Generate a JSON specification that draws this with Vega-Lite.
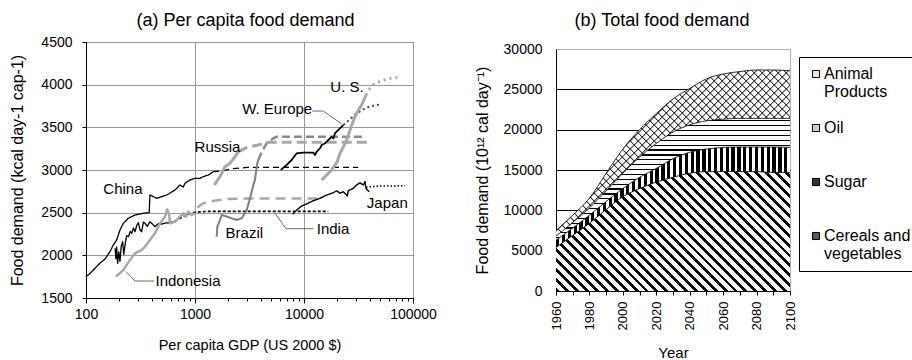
{
"$schema":"https://vega.github.io/schema/vega-lite/v6.json",
"padding":{"left":9,"top":11,"right":2,"bottom":2},
"background":"white",
"config":{"font":"Liberation Sans","axis":{"labelColor":"black","titleColor":"black","domainColor":"black","tickColor":"black","titleFontWeight":"normal","labelFont":"Liberation Sans","titleFont":"Liberation Sans"},"title":{"color":"black","fontWeight":"normal","font":"Liberation Sans"},"legend":{"labelColor":"black","labelFont":"Liberation Sans"}},
"resolve":{"scale":{"color":"independent","strokeDash":"independent","strokeWidth":"independent"},"legend":{"color":"independent"}},
"datasets":{
"lines":[
{"s":"China","x":100,"y":1750},{"s":"China","x":109,"y":1789},{"s":"China","x":121,"y":1848},{"s":"China","x":134,"y":1907},{"s":"China","x":149,"y":1954},{"s":"China","x":166,"y":2043},{"s":"China","x":178,"y":2121},{"s":"China","x":191,"y":2180},{"s":"China","x":205,"y":2297},{"s":"China","x":220,"y":2375},{"s":"China","x":244,"y":2434},{"s":"China","x":282,"y":2473},{"s":"China","x":336,"y":2493},{"s":"China","x":380,"y":2500},{"s":"China","x":386,"y":2707},{"s":"China","x":445,"y":2668},{"s":"China","x":550,"y":2707},{"s":"China","x":656,"y":2766},{"s":"China","x":728,"y":2824},{"s":"China","x":780,"y":2800},{"s":"China","x":809,"y":2844},{"s":"China","x":899,"y":2883},{"s":"China","x":1000,"y":2903},{"s":"China","x":1100,"y":2900},{"s":"China","x":1192,"y":2922},{"s":"China","x":1324,"y":2941},{"s":"China","x":1472,"y":2980},
{"s":"China proj","x":1472,"y":2980},{"s":"China proj","x":1800,"y":2990},{"s":"China proj","x":2200,"y":3015},{"s":"China proj","x":3000,"y":3030},{"s":"China proj","x":31500,"y":3030},
{"s":"India","x":185,"y":2082},{"s":"India","x":188,"y":1960},{"s":"India","x":191,"y":2100},{"s":"India","x":195,"y":1907},{"s":"India","x":200,"y":2040},{"s":"India","x":205,"y":1930},{"s":"India","x":210,"y":2100},{"s":"India","x":217,"y":2160},{"s":"India","x":222,"y":2010},{"s":"India","x":228,"y":2120},{"s":"India","x":236,"y":2230},{"s":"India","x":245,"y":2218},{"s":"India","x":255,"y":2280},{"s":"India","x":263,"y":2258},{"s":"India","x":272,"y":2320},{"s":"India","x":282,"y":2277},{"s":"India","x":292,"y":2350},{"s":"India","x":302,"y":2382},{"s":"India","x":313,"y":2300},{"s":"India","x":324,"y":2277},{"s":"India","x":336,"y":2390},{"s":"India","x":348,"y":2375},{"s":"India","x":365,"y":2340},{"s":"India","x":386,"y":2394},{"s":"India","x":405,"y":2370},{"s":"India","x":429,"y":2336},{"s":"India","x":460,"y":2370},{"s":"India","x":495,"y":2367},{"s":"India","x":540,"y":2380},{"s":"India","x":590,"y":2382},
{"s":"India proj","x":590,"y":2382},{"s":"India proj","x":700,"y":2420},{"s":"India proj","x":850,"y":2480},{"s":"India proj","x":1000,"y":2505},{"s":"India proj","x":1300,"y":2515},{"s":"India proj","x":16700,"y":2515},
{"s":"Indonesia","x":188,"y":1750},{"s":"Indonesia","x":220,"y":1828},{"s":"Indonesia","x":253,"y":1945},{"s":"Indonesia","x":282,"y":2024},{"s":"Indonesia","x":302,"y":2043},{"s":"Indonesia","x":324,"y":2063},{"s":"Indonesia","x":348,"y":2101},{"s":"Indonesia","x":386,"y":2180},{"s":"Indonesia","x":429,"y":2258},{"s":"Indonesia","x":477,"y":2375},{"s":"Indonesia","x":531,"y":2453},{"s":"Indonesia","x":557,"y":2539},{"s":"Indonesia","x":581,"y":2473},{"s":"Indonesia","x":590,"y":2375},{"s":"Indonesia","x":656,"y":2394},{"s":"Indonesia","x":728,"y":2453},{"s":"Indonesia","x":781,"y":2493},{"s":"Indonesia","x":826,"y":2453},{"s":"Indonesia","x":868,"y":2511},{"s":"Indonesia","x":933,"y":2473},{"s":"Indonesia","x":1000,"y":2493},
{"s":"Indonesia proj","x":1050,"y":2560},{"s":"Indonesia proj","x":1190,"y":2610},{"s":"Indonesia proj","x":1500,"y":2640},{"s":"Indonesia proj","x":2000,"y":2660},{"s":"Indonesia proj","x":3000,"y":2665},{"s":"Indonesia proj","x":13500,"y":2665},
{"s":"Brazil","x":1581,"y":2218},{"s":"Brazil","x":1603,"y":2336},{"s":"Brazil","x":1695,"y":2414},{"s":"Brazil","x":1757,"y":2473},{"s":"Brazil","x":1953,"y":2455},{"s":"Brazil","x":2170,"y":2434},{"s":"Brazil","x":2414,"y":2414},{"s":"Brazil","x":2681,"y":2434},{"s":"Brazil","x":2979,"y":2531},{"s":"Brazil","x":3197,"y":2668},{"s":"Brazil","x":3311,"y":2746},{"s":"Brazil","x":3428,"y":2824},{"s":"Brazil","x":3550,"y":2883},{"s":"Brazil","x":3630,"y":2980},{"s":"Brazil","x":3731,"y":3079},{"s":"Brazil","x":3813,"y":3117},
{"s":"Brazil proj","x":3813,"y":3117},{"s":"Brazil proj","x":4093,"y":3215},{"s":"Brazil proj","x":4548,"y":3313},{"s":"Brazil proj","x":5230,"y":3371},{"s":"Brazil proj","x":5620,"y":3391},{"s":"Brazil proj","x":36270,"y":3391},
{"s":"Russia","x":1503,"y":2824},{"s":"Russia","x":1695,"y":2922},{"s":"Russia","x":1884,"y":3039},{"s":"Russia","x":2094,"y":3079},{"s":"Russia","x":2328,"y":3156},{"s":"Russia","x":2496,"y":3215},
{"s":"Russia proj","x":2496,"y":3215},{"s":"Russia proj","x":3000,"y":3265},{"s":"Russia proj","x":3700,"y":3290},{"s":"Russia proj","x":4700,"y":3325},{"s":"Russia proj","x":40350,"y":3325},
{"s":"W. Europe","x":6110,"y":3000},{"s":"W. Europe","x":6930,"y":3059},{"s":"W. Europe","x":7700,"y":3117},{"s":"W. Europe","x":8570,"y":3196},{"s":"W. Europe","x":9860,"y":3203},{"s":"W. Europe","x":12170,"y":3203},{"s":"W. Europe","x":12610,"y":3176},{"s":"W. Europe","x":13080,"y":3215},{"s":"W. Europe","x":14020,"y":3254},{"s":"W. Europe","x":14530,"y":3293},{"s":"W. Europe","x":15590,"y":3313},{"s":"W. Europe","x":16720,"y":3352},{"s":"W. Europe","x":17940,"y":3391},{"s":"W. Europe","x":18570,"y":3371},{"s":"W. Europe","x":19250,"y":3430},{"s":"W. Europe","x":20640,"y":3469},{"s":"W. Europe","x":22160,"y":3508},{"s":"W. Europe","x":22970,"y":3527},
{"s":"W. Europe proj","x":22970,"y":3527},{"s":"W. Europe proj","x":30400,"y":3664},{"s":"W. Europe proj","x":37600,"y":3735},{"s":"W. Europe proj","x":51600,"y":3773},
{"s":"U.S.","x":14530,"y":2883},{"s":"U.S.","x":16150,"y":2941},{"s":"U.S.","x":17940,"y":3000},{"s":"U.S.","x":19250,"y":3059},{"s":"U.S.","x":20190,"y":3097},{"s":"U.S.","x":21400,"y":3196},{"s":"U.S.","x":22970,"y":3273},{"s":"U.S.","x":24640,"y":3352},{"s":"U.S.","x":26440,"y":3469},{"s":"U.S.","x":27390,"y":3527},{"s":"U.S.","x":29400,"y":3625},{"s":"U.S.","x":31500,"y":3703},{"s":"U.S.","x":33800,"y":3762},{"s":"U.S.","x":37060,"y":3879},
{"s":"U.S. proj","x":37060,"y":3879},{"s":"U.S. proj","x":40350,"y":3960},{"s":"U.S. proj","x":43250,"y":3996},{"s":"U.S. proj","x":50000,"y":4040},{"s":"U.S. proj","x":57400,"y":4067},{"s":"U.S. proj","x":73300,"y":4087},
{"s":"Japan","x":7875,"y":2481},{"s":"Japan","x":8570,"y":2531},{"s":"Japan","x":9520,"y":2578},{"s":"Japan","x":10580,"y":2602},{"s":"Japan","x":12170,"y":2640},{"s":"Japan","x":14020,"y":2668},{"s":"Japan","x":16150,"y":2707},{"s":"Japan","x":18580,"y":2734},{"s":"Japan","x":19950,"y":2757},{"s":"Japan","x":21400,"y":2727},{"s":"Japan","x":22950,"y":2746},{"s":"Japan","x":24960,"y":2695},{"s":"Japan","x":25490,"y":2757},{"s":"Japan","x":28320,"y":2786},{"s":"Japan","x":30410,"y":2824},{"s":"Japan","x":32620,"y":2851},{"s":"Japan","x":34990,"y":2824},{"s":"Japan","x":36270,"y":2863},{"s":"Japan","x":37060,"y":2786},{"s":"Japan","x":38090,"y":2766},{"s":"Japan","x":39740,"y":2746},
{"s":"Japan proj","x":37060,"y":2800},{"s":"Japan proj","x":50000,"y":2812},{"s":"Japan proj","x":84500,"y":2815}
],
"labels":[
{"t":"China","x":218,"y":2774},{"t":"Russia","x":1608,"y":3273},{"t":"W. Europe","x":5675,"y":3715},{"t":"U. S.","x":24800,"y":3976},{"t":"Japan","x":58100,"y":2617},{"t":"India","x":18450,"y":2312},{"t":"Brazil","x":2833,"y":2258},{"t":"Indonesia","x":863,"y":1699}
],
"pointers":[
{"p":"we","o":1,"x":11910,"y":3691},{"p":"we","o":2,"x":15030,"y":3691},{"p":"we","o":3,"x":22170,"y":3539},
{"p":"in","o":1,"x":12170,"y":2312},{"p":"in","o":2,"x":6840,"y":2312},{"p":"in","o":3,"x":5420,"y":2493},
{"p":"id","o":1,"x":420,"y":1699},{"p":"id","o":2,"x":282,"y":1699},{"p":"id","o":3,"x":233,"y":1808}
],
"food":[
{"year":1960,"cat":"Cereals and vegetables","k":1,"v":5400},{"year":1960,"cat":"Sugar","k":2,"v":900},{"year":1960,"cat":"Oil","k":3,"v":500},{"year":1960,"cat":"Animal Products","k":4,"v":700},
{"year":1970,"cat":"Cereals and vegetables","k":1,"v":6900},{"year":1970,"cat":"Sugar","k":2,"v":900},{"year":1970,"cat":"Oil","k":3,"v":700},{"year":1970,"cat":"Animal Products","k":4,"v":900},
{"year":1980,"cat":"Cereals and vegetables","k":1,"v":8400},{"year":1980,"cat":"Sugar","k":2,"v":1000},{"year":1980,"cat":"Oil","k":3,"v":900},{"year":1980,"cat":"Animal Products","k":4,"v":1200},
{"year":1990,"cat":"Cereals and vegetables","k":1,"v":10100},{"year":1990,"cat":"Sugar","k":2,"v":1000},{"year":1990,"cat":"Oil","k":3,"v":1300},{"year":1990,"cat":"Animal Products","k":4,"v":2200},
{"year":2000,"cat":"Cereals and vegetables","k":1,"v":11700},{"year":2000,"cat":"Sugar","k":2,"v":1000},{"year":2000,"cat":"Oil","k":3,"v":1900},{"year":2000,"cat":"Animal Products","k":4,"v":3000},
{"year":2010,"cat":"Cereals and vegetables","k":1,"v":12700},{"year":2010,"cat":"Sugar","k":2,"v":1400},{"year":2010,"cat":"Oil","k":3,"v":2500},{"year":2010,"cat":"Animal Products","k":4,"v":3400},
{"year":2020,"cat":"Cereals and vegetables","k":1,"v":13500},{"year":2020,"cat":"Sugar","k":2,"v":1700},{"year":2020,"cat":"Oil","k":3,"v":3100},{"year":2020,"cat":"Animal Products","k":4,"v":3700},
{"year":2030,"cat":"Cereals and vegetables","k":1,"v":14100},{"year":2030,"cat":"Sugar","k":2,"v":2300},{"year":2030,"cat":"Oil","k":3,"v":3300},{"year":2030,"cat":"Animal Products","k":4,"v":4100},
{"year":2040,"cat":"Cereals and vegetables","k":1,"v":14600},{"year":2040,"cat":"Sugar","k":2,"v":2600},{"year":2040,"cat":"Oil","k":3,"v":3400},{"year":2040,"cat":"Animal Products","k":4,"v":4500},
{"year":2050,"cat":"Cereals and vegetables","k":1,"v":14800},{"year":2050,"cat":"Sugar","k":2,"v":2800},{"year":2050,"cat":"Oil","k":3,"v":3500},{"year":2050,"cat":"Animal Products","k":4,"v":5200},
{"year":2060,"cat":"Cereals and vegetables","k":1,"v":14800},{"year":2060,"cat":"Sugar","k":2,"v":3000},{"year":2060,"cat":"Oil","k":3,"v":3500},{"year":2060,"cat":"Animal Products","k":4,"v":5600},
{"year":2070,"cat":"Cereals and vegetables","k":1,"v":14800},{"year":2070,"cat":"Sugar","k":2,"v":3050},{"year":2070,"cat":"Oil","k":3,"v":3550},{"year":2070,"cat":"Animal Products","k":4,"v":5800},
{"year":2080,"cat":"Cereals and vegetables","k":1,"v":14800},{"year":2080,"cat":"Sugar","k":2,"v":3050},{"year":2080,"cat":"Oil","k":3,"v":3550},{"year":2080,"cat":"Animal Products","k":4,"v":6000},
{"year":2090,"cat":"Cereals and vegetables","k":1,"v":14700},{"year":2090,"cat":"Sugar","k":2,"v":3150},{"year":2090,"cat":"Oil","k":3,"v":3550},{"year":2090,"cat":"Animal Products","k":4,"v":6000},
{"year":2100,"cat":"Cereals and vegetables","k":1,"v":14700},{"year":2100,"cat":"Sugar","k":2,"v":3100},{"year":2100,"cat":"Oil","k":3,"v":3600},{"year":2100,"cat":"Animal Products","k":4,"v":5900}
]
},
"hconcat":[
{
"width":327,"height":256,
"title":{"text":"(a) Per capita food demand","fontSize":18,"offset":5,"dx":-4},
"view":{"stroke":"black","strokeWidth":1},
"encoding":{
"x":{"field":"x","type":"quantitative","scale":{"type":"log","domain":[100,100000],"nice":false},
"axis":{"title":"Per capita GDP (US 2000 $)","values":[100,200,300,400,500,600,700,800,900,1000,2000,3000,4000,5000,6000,7000,8000,9000,10000,20000,30000,40000,50000,60000,70000,80000,90000,100000],
"labelExpr":"indexof([100,1000,10000,100000], datum.value) >= 0 ? format(datum.value, 'd') : ''",
"gridOpacity":{"condition":{"test":"indexof([100,1000,10000,100000], datum.value) >= 0","value":1},"value":0},
"tickSize":{"condition":{"test":"indexof([100,1000,10000,100000], datum.value) >= 0","value":5},"value":3},
"gridColor":"#999","labelFontSize":14,"labelPadding":4,"labelFlush":false,"labelOverlap":false,"titleFontSize":14.5,"titlePadding":17}},
"y":{"field":"y","type":"quantitative","scale":{"domain":[1500,4500],"nice":false,"zero":false},
"axis":{"title":"Food demand (kcal day-1 cap-1)","values":[1500,2000,2500,3000,3500,4000,4500],"format":"d","gridColor":"#999","tickSize":4,"labelPadding":10,"labelFontSize":14,"titleFontSize":16,"titlePadding":15}}
},
"layer":[
{"data":{"name":"lines"},"mark":{"type":"line","strokeJoin":"round"},
"encoding":{
"color":{"field":"s","type":"nominal","legend":null,"scale":{"domain":["China","China proj","India","India proj","Indonesia","Indonesia proj","Brazil","Brazil proj","Russia","Russia proj","W. Europe","W. Europe proj","U.S.","U.S. proj","Japan","Japan proj"],"range":["#000000","#000000","#000000","#000000","#a8a8a8","#a8a8a8","#7f7f7f","#8a8a8a","#a8a8a8","#a8a8a8","#000000","#444444","#a8a8a8","#a8a8a8","#000000","#000000"]}},
"strokeDash":{"field":"s","type":"nominal","legend":null,"scale":{"domain":["China","China proj","India","India proj","Indonesia","Indonesia proj","Brazil","Brazil proj","Russia","Russia proj","W. Europe","W. Europe proj","U.S.","U.S. proj","Japan","Japan proj"],"range":[[1,0],[6,4],[1,0],[3,2],[1,0],[10,6],[1,0],[8,4],[1,0],[10,5],[1,0],[2,3],[1,0],[2,4],[1,0],[1.5,2]]}},
"strokeWidth":{"field":"s","type":"nominal","legend":null,"scale":{"type":"ordinal","domain":["China","China proj","India","India proj","Indonesia","Indonesia proj","Brazil","Brazil proj","Russia","Russia proj","W. Europe","W. Europe proj","U.S.","U.S. proj","Japan","Japan proj"],"range":[1.3,1.3,1.3,1.6,2.5,2.5,2,2.5,3,3.2,1.8,2,3,3,1.4,1.5]}}
}},
{"data":{"name":"pointers"},"mark":{"type":"line","color":"#444","strokeWidth":0.8},"encoding":{"detail":{"field":"p"},"order":{"field":"o"}}},
{"data":{"name":"labels"},"mark":{"type":"text","fontSize":15,"align":"center","baseline":"middle","color":"black"},"encoding":{"text":{"field":"t"}}}
]
},
{
"width":234,"height":242,
"title":{"text":"(b) Total food demand","fontSize":18,"offset":12,"dx":-11},
"view":{"stroke":"#b0b0b0"},
"data":{"name":"food"},
"transform":[{"stack":"v","groupby":["year"],"sort":[{"field":"k","order":"ascending"}],"as":["v0","v1"]}],
"encoding":{
"x":{"field":"year","type":"quantitative","scale":{"domain":[1960,2100],"nice":false,"zero":false},
"axis":{"title":"Year","values":[1960,1970,1980,1990,2000,2010,2020,2030,2040,2050,2060,2070,2080,2090,2100],"labelExpr":"datum.value % 20 == 0 ? format(datum.value, 'd') : ''","labelAngle":270,"labelFontSize":13,"tickSize":4,"labelPadding":6,"grid":false,"titleFontSize":15,"titlePadding":16,"labelOverlap":false,"labelFlush":false}},
"y":{"field":"v1","type":"quantitative","scale":{"domain":[0,30000],"nice":false},
"axis":{"title":"Food demand (10¹² cal day⁻¹)","values":[0,5000,10000,15000,20000,25000,30000],"format":"d","gridColor":"black","gridOpacity":{"condition":{"test":"datum.value == 30000","value":0},"value":1},"ticks":false,"labelPadding":14,"labelFontSize":14,"titleFontSize":16,"titlePadding":13}}
},
"layer":[
{"mark":{"type":"area","interpolate":"monotone","opacity":1},
"encoding":{"y2":{"field":"v0"},
"color":{"field":"cat","type":"nominal","scale":{"domain":["Animal Products","Oil","Sugar","Cereals and vegetables"],"range":["#e6e6e6","#cccccc","#333333","#5a5a5a"]},
"legend":{"orient":"none","legendX":243,"legendY":8,"title":null,"labelExpr":"datum.label == 'Animal Products' ? ['Animal', 'Products'] : datum.label == 'Cereals and vegetables' ? ['Cereals and', 'vegetables'] : [datum.label, ' ']","labelFontSize":16,"symbolType":"square","symbolSize":50,"symbolStrokeColor":"black","symbolStrokeWidth":1,"strokeColor":"black","fillColor":"white","padding":9,"rowPadding":20,"labelLimit":200,"labelOffset":0}}}},
{"transform":[{"filter":"datum.cat == 'Cereals and vegetables'"}],
"mark":{"type":"area","interpolate":"monotone","opacity":1,"fill":{"gradient":"linear","x1":0,"y1":1,"x2":1.198,"y2":0.389,"stops":[
{"offset":0,"color":"#000"},{"offset":0.011,"color":"#000"},{"offset":0.011,"color":"#fff"},{"offset":0.028,"color":"#fff"},
{"offset":0.028,"color":"#000"},{"offset":0.039,"color":"#000"},{"offset":0.039,"color":"#fff"},{"offset":0.056,"color":"#fff"},
{"offset":0.056,"color":"#000"},{"offset":0.067,"color":"#000"},{"offset":0.067,"color":"#fff"},{"offset":0.084,"color":"#fff"},
{"offset":0.084,"color":"#000"},{"offset":0.095,"color":"#000"},{"offset":0.095,"color":"#fff"},{"offset":0.112,"color":"#fff"},
{"offset":0.112,"color":"#000"},{"offset":0.123,"color":"#000"},{"offset":0.123,"color":"#fff"},{"offset":0.14,"color":"#fff"},
{"offset":0.14,"color":"#000"},{"offset":0.151,"color":"#000"},{"offset":0.151,"color":"#fff"},{"offset":0.168,"color":"#fff"},
{"offset":0.168,"color":"#000"},{"offset":0.179,"color":"#000"},{"offset":0.179,"color":"#fff"},{"offset":0.196,"color":"#fff"},
{"offset":0.196,"color":"#000"},{"offset":0.207,"color":"#000"},{"offset":0.207,"color":"#fff"},{"offset":0.224,"color":"#fff"},
{"offset":0.224,"color":"#000"},{"offset":0.235,"color":"#000"},{"offset":0.235,"color":"#fff"},{"offset":0.252,"color":"#fff"},
{"offset":0.252,"color":"#000"},{"offset":0.263,"color":"#000"},{"offset":0.263,"color":"#fff"},{"offset":0.28,"color":"#fff"},
{"offset":0.28,"color":"#000"},{"offset":0.291,"color":"#000"},{"offset":0.291,"color":"#fff"},{"offset":0.308,"color":"#fff"},
{"offset":0.308,"color":"#000"},{"offset":0.319,"color":"#000"},{"offset":0.319,"color":"#fff"},{"offset":0.336,"color":"#fff"},
{"offset":0.336,"color":"#000"},{"offset":0.347,"color":"#000"},{"offset":0.347,"color":"#fff"},{"offset":0.364,"color":"#fff"},
{"offset":0.364,"color":"#000"},{"offset":0.375,"color":"#000"},{"offset":0.375,"color":"#fff"},{"offset":0.392,"color":"#fff"},
{"offset":0.392,"color":"#000"},{"offset":0.403,"color":"#000"},{"offset":0.403,"color":"#fff"},{"offset":0.42,"color":"#fff"},
{"offset":0.42,"color":"#000"},{"offset":0.431,"color":"#000"},{"offset":0.431,"color":"#fff"},{"offset":0.448,"color":"#fff"},
{"offset":0.448,"color":"#000"},{"offset":0.459,"color":"#000"},{"offset":0.459,"color":"#fff"},{"offset":0.476,"color":"#fff"},
{"offset":0.476,"color":"#000"},{"offset":0.487,"color":"#000"},{"offset":0.487,"color":"#fff"},{"offset":0.504,"color":"#fff"},
{"offset":0.504,"color":"#000"},{"offset":0.515,"color":"#000"},{"offset":0.515,"color":"#fff"},{"offset":0.532,"color":"#fff"},
{"offset":0.532,"color":"#000"},{"offset":0.543,"color":"#000"},{"offset":0.543,"color":"#fff"},{"offset":0.56,"color":"#fff"},
{"offset":0.56,"color":"#000"},{"offset":0.571,"color":"#000"},{"offset":0.571,"color":"#fff"},{"offset":0.588,"color":"#fff"},
{"offset":0.588,"color":"#000"},{"offset":0.599,"color":"#000"},{"offset":0.599,"color":"#fff"},{"offset":0.616,"color":"#fff"},
{"offset":0.616,"color":"#000"},{"offset":0.627,"color":"#000"},{"offset":0.627,"color":"#fff"},{"offset":0.644,"color":"#fff"},
{"offset":0.644,"color":"#000"},{"offset":0.655,"color":"#000"},{"offset":0.655,"color":"#fff"},{"offset":0.672,"color":"#fff"},
{"offset":0.672,"color":"#000"},{"offset":0.683,"color":"#000"},{"offset":0.683,"color":"#fff"},{"offset":0.7,"color":"#fff"},
{"offset":0.7,"color":"#000"},{"offset":0.711,"color":"#000"},{"offset":0.711,"color":"#fff"},{"offset":0.728,"color":"#fff"},
{"offset":0.728,"color":"#000"},{"offset":0.739,"color":"#000"},{"offset":0.739,"color":"#fff"},{"offset":0.756,"color":"#fff"},
{"offset":0.756,"color":"#000"},{"offset":0.767,"color":"#000"},{"offset":0.767,"color":"#fff"},{"offset":0.784,"color":"#fff"},
{"offset":0.784,"color":"#000"},{"offset":0.795,"color":"#000"},{"offset":0.795,"color":"#fff"},{"offset":0.812,"color":"#fff"},
{"offset":0.812,"color":"#000"},{"offset":0.823,"color":"#000"},{"offset":0.823,"color":"#fff"},{"offset":0.84,"color":"#fff"},
{"offset":0.84,"color":"#000"},{"offset":0.851,"color":"#000"},{"offset":0.851,"color":"#fff"},{"offset":0.868,"color":"#fff"},
{"offset":0.868,"color":"#000"},{"offset":0.879,"color":"#000"},{"offset":0.879,"color":"#fff"},{"offset":0.896,"color":"#fff"},
{"offset":0.896,"color":"#000"},{"offset":0.907,"color":"#000"},{"offset":0.907,"color":"#fff"},{"offset":0.924,"color":"#fff"},
{"offset":0.924,"color":"#000"},{"offset":0.935,"color":"#000"},{"offset":0.935,"color":"#fff"},{"offset":0.952,"color":"#fff"},
{"offset":0.952,"color":"#000"},{"offset":0.963,"color":"#000"},{"offset":0.963,"color":"#fff"},{"offset":0.98,"color":"#fff"},
{"offset":0.98,"color":"#000"},{"offset":0.991,"color":"#000"},{"offset":0.991,"color":"#fff"},{"offset":1,"color":"#fff"}
]}},
"encoding":{"y2":{"field":"v0"}}},
{"transform":[{"filter":"datum.cat == 'Sugar'"}],
"mark":{"type":"area","interpolate":"monotone","opacity":1,"fill":{"gradient":"linear","x1":0,"y1":0,"x2":1,"y2":0,"stops":[
{"offset":0,"color":"#000"},{"offset":0.014,"color":"#000"},{"offset":0.014,"color":"#fff"},{"offset":0.025,"color":"#fff"},
{"offset":0.025,"color":"#000"},{"offset":0.039,"color":"#000"},{"offset":0.039,"color":"#fff"},{"offset":0.05,"color":"#fff"},
{"offset":0.05,"color":"#000"},{"offset":0.064,"color":"#000"},{"offset":0.064,"color":"#fff"},{"offset":0.075,"color":"#fff"},
{"offset":0.075,"color":"#000"},{"offset":0.089,"color":"#000"},{"offset":0.089,"color":"#fff"},{"offset":0.1,"color":"#fff"},
{"offset":0.1,"color":"#000"},{"offset":0.114,"color":"#000"},{"offset":0.114,"color":"#fff"},{"offset":0.125,"color":"#fff"},
{"offset":0.125,"color":"#000"},{"offset":0.139,"color":"#000"},{"offset":0.139,"color":"#fff"},{"offset":0.15,"color":"#fff"},
{"offset":0.15,"color":"#000"},{"offset":0.164,"color":"#000"},{"offset":0.164,"color":"#fff"},{"offset":0.175,"color":"#fff"},
{"offset":0.175,"color":"#000"},{"offset":0.189,"color":"#000"},{"offset":0.189,"color":"#fff"},{"offset":0.2,"color":"#fff"},
{"offset":0.2,"color":"#000"},{"offset":0.214,"color":"#000"},{"offset":0.214,"color":"#fff"},{"offset":0.225,"color":"#fff"},
{"offset":0.225,"color":"#000"},{"offset":0.239,"color":"#000"},{"offset":0.239,"color":"#fff"},{"offset":0.25,"color":"#fff"},
{"offset":0.25,"color":"#000"},{"offset":0.264,"color":"#000"},{"offset":0.264,"color":"#fff"},{"offset":0.275,"color":"#fff"},
{"offset":0.275,"color":"#000"},{"offset":0.289,"color":"#000"},{"offset":0.289,"color":"#fff"},{"offset":0.3,"color":"#fff"},
{"offset":0.3,"color":"#000"},{"offset":0.314,"color":"#000"},{"offset":0.314,"color":"#fff"},{"offset":0.325,"color":"#fff"},
{"offset":0.325,"color":"#000"},{"offset":0.339,"color":"#000"},{"offset":0.339,"color":"#fff"},{"offset":0.35,"color":"#fff"},
{"offset":0.35,"color":"#000"},{"offset":0.364,"color":"#000"},{"offset":0.364,"color":"#fff"},{"offset":0.375,"color":"#fff"},
{"offset":0.375,"color":"#000"},{"offset":0.389,"color":"#000"},{"offset":0.389,"color":"#fff"},{"offset":0.4,"color":"#fff"},
{"offset":0.4,"color":"#000"},{"offset":0.414,"color":"#000"},{"offset":0.414,"color":"#fff"},{"offset":0.425,"color":"#fff"},
{"offset":0.425,"color":"#000"},{"offset":0.439,"color":"#000"},{"offset":0.439,"color":"#fff"},{"offset":0.45,"color":"#fff"},
{"offset":0.45,"color":"#000"},{"offset":0.464,"color":"#000"},{"offset":0.464,"color":"#fff"},{"offset":0.475,"color":"#fff"},
{"offset":0.475,"color":"#000"},{"offset":0.489,"color":"#000"},{"offset":0.489,"color":"#fff"},{"offset":0.5,"color":"#fff"},
{"offset":0.5,"color":"#000"},{"offset":0.514,"color":"#000"},{"offset":0.514,"color":"#fff"},{"offset":0.525,"color":"#fff"},
{"offset":0.525,"color":"#000"},{"offset":0.539,"color":"#000"},{"offset":0.539,"color":"#fff"},{"offset":0.55,"color":"#fff"},
{"offset":0.55,"color":"#000"},{"offset":0.564,"color":"#000"},{"offset":0.564,"color":"#fff"},{"offset":0.575,"color":"#fff"},
{"offset":0.575,"color":"#000"},{"offset":0.589,"color":"#000"},{"offset":0.589,"color":"#fff"},{"offset":0.6,"color":"#fff"},
{"offset":0.6,"color":"#000"},{"offset":0.614,"color":"#000"},{"offset":0.614,"color":"#fff"},{"offset":0.625,"color":"#fff"},
{"offset":0.625,"color":"#000"},{"offset":0.639,"color":"#000"},{"offset":0.639,"color":"#fff"},{"offset":0.65,"color":"#fff"},
{"offset":0.65,"color":"#000"},{"offset":0.664,"color":"#000"},{"offset":0.664,"color":"#fff"},{"offset":0.675,"color":"#fff"},
{"offset":0.675,"color":"#000"},{"offset":0.689,"color":"#000"},{"offset":0.689,"color":"#fff"},{"offset":0.7,"color":"#fff"},
{"offset":0.7,"color":"#000"},{"offset":0.714,"color":"#000"},{"offset":0.714,"color":"#fff"},{"offset":0.725,"color":"#fff"},
{"offset":0.725,"color":"#000"},{"offset":0.739,"color":"#000"},{"offset":0.739,"color":"#fff"},{"offset":0.75,"color":"#fff"},
{"offset":0.75,"color":"#000"},{"offset":0.764,"color":"#000"},{"offset":0.764,"color":"#fff"},{"offset":0.775,"color":"#fff"},
{"offset":0.775,"color":"#000"},{"offset":0.789,"color":"#000"},{"offset":0.789,"color":"#fff"},{"offset":0.8,"color":"#fff"},
{"offset":0.8,"color":"#000"},{"offset":0.814,"color":"#000"},{"offset":0.814,"color":"#fff"},{"offset":0.825,"color":"#fff"},
{"offset":0.825,"color":"#000"},{"offset":0.839,"color":"#000"},{"offset":0.839,"color":"#fff"},{"offset":0.85,"color":"#fff"},
{"offset":0.85,"color":"#000"},{"offset":0.864,"color":"#000"},{"offset":0.864,"color":"#fff"},{"offset":0.875,"color":"#fff"},
{"offset":0.875,"color":"#000"},{"offset":0.889,"color":"#000"},{"offset":0.889,"color":"#fff"},{"offset":0.9,"color":"#fff"},
{"offset":0.9,"color":"#000"},{"offset":0.914,"color":"#000"},{"offset":0.914,"color":"#fff"},{"offset":0.925,"color":"#fff"},
{"offset":0.925,"color":"#000"},{"offset":0.939,"color":"#000"},{"offset":0.939,"color":"#fff"},{"offset":0.95,"color":"#fff"},
{"offset":0.95,"color":"#000"},{"offset":0.964,"color":"#000"},{"offset":0.964,"color":"#fff"},{"offset":0.975,"color":"#fff"},
{"offset":0.975,"color":"#000"},{"offset":0.989,"color":"#000"},{"offset":0.989,"color":"#fff"},{"offset":1,"color":"#fff"}
]}},
"encoding":{"y2":{"field":"v0"}}},
{"transform":[{"filter":"datum.cat == 'Oil'"}],
"mark":{"type":"area","interpolate":"monotone","opacity":1,"fill":{"gradient":"linear","x1":0,"y1":0,"x2":0,"y2":1,"stops":[
{"offset":0,"color":"#fff"},
{"offset":0.015,"color":"#fff"},{"offset":0.015,"color":"#000"},{"offset":0.025,"color":"#000"},{"offset":0.025,"color":"#fff"},
{"offset":0.055,"color":"#fff"},{"offset":0.055,"color":"#000"},{"offset":0.065,"color":"#000"},{"offset":0.065,"color":"#fff"},
{"offset":0.095,"color":"#fff"},{"offset":0.095,"color":"#000"},{"offset":0.105,"color":"#000"},{"offset":0.105,"color":"#fff"},
{"offset":0.135,"color":"#fff"},{"offset":0.135,"color":"#000"},{"offset":0.145,"color":"#000"},{"offset":0.145,"color":"#fff"},
{"offset":0.175,"color":"#fff"},{"offset":0.175,"color":"#000"},{"offset":0.185,"color":"#000"},{"offset":0.185,"color":"#fff"},
{"offset":0.215,"color":"#fff"},{"offset":0.215,"color":"#000"},{"offset":0.225,"color":"#000"},{"offset":0.225,"color":"#fff"},
{"offset":0.255,"color":"#fff"},{"offset":0.255,"color":"#000"},{"offset":0.265,"color":"#000"},{"offset":0.265,"color":"#fff"},
{"offset":0.295,"color":"#fff"},{"offset":0.295,"color":"#000"},{"offset":0.305,"color":"#000"},{"offset":0.305,"color":"#fff"},
{"offset":0.335,"color":"#fff"},{"offset":0.335,"color":"#000"},{"offset":0.345,"color":"#000"},{"offset":0.345,"color":"#fff"},
{"offset":0.375,"color":"#fff"},{"offset":0.375,"color":"#000"},{"offset":0.385,"color":"#000"},{"offset":0.385,"color":"#fff"},
{"offset":0.415,"color":"#fff"},{"offset":0.415,"color":"#000"},{"offset":0.425,"color":"#000"},{"offset":0.425,"color":"#fff"},
{"offset":0.455,"color":"#fff"},{"offset":0.455,"color":"#000"},{"offset":0.465,"color":"#000"},{"offset":0.465,"color":"#fff"},
{"offset":0.495,"color":"#fff"},{"offset":0.495,"color":"#000"},{"offset":0.505,"color":"#000"},{"offset":0.505,"color":"#fff"},
{"offset":0.535,"color":"#fff"},{"offset":0.535,"color":"#000"},{"offset":0.545,"color":"#000"},{"offset":0.545,"color":"#fff"},
{"offset":0.575,"color":"#fff"},{"offset":0.575,"color":"#000"},{"offset":0.585,"color":"#000"},{"offset":0.585,"color":"#fff"},
{"offset":0.615,"color":"#fff"},{"offset":0.615,"color":"#000"},{"offset":0.625,"color":"#000"},{"offset":0.625,"color":"#fff"},
{"offset":0.655,"color":"#fff"},{"offset":0.655,"color":"#000"},{"offset":0.665,"color":"#000"},{"offset":0.665,"color":"#fff"},
{"offset":0.695,"color":"#fff"},{"offset":0.695,"color":"#000"},{"offset":0.705,"color":"#000"},{"offset":0.705,"color":"#fff"},
{"offset":0.735,"color":"#fff"},{"offset":0.735,"color":"#000"},{"offset":0.745,"color":"#000"},{"offset":0.745,"color":"#fff"},
{"offset":0.775,"color":"#fff"},{"offset":0.775,"color":"#000"},{"offset":0.785,"color":"#000"},{"offset":0.785,"color":"#fff"},
{"offset":0.815,"color":"#fff"},{"offset":0.815,"color":"#000"},{"offset":0.825,"color":"#000"},{"offset":0.825,"color":"#fff"},
{"offset":0.855,"color":"#fff"},{"offset":0.855,"color":"#000"},{"offset":0.865,"color":"#000"},{"offset":0.865,"color":"#fff"},
{"offset":0.895,"color":"#fff"},{"offset":0.895,"color":"#000"},{"offset":0.905,"color":"#000"},{"offset":0.905,"color":"#fff"},
{"offset":0.935,"color":"#fff"},{"offset":0.935,"color":"#000"},{"offset":0.945,"color":"#000"},{"offset":0.945,"color":"#fff"},
{"offset":0.975,"color":"#fff"},{"offset":0.975,"color":"#000"},{"offset":0.985,"color":"#000"},{"offset":0.985,"color":"#fff"},
{"offset":1,"color":"#fff"}
]}},
"encoding":{"y2":{"field":"v0"}}},
{"transform":[{"filter":"datum.cat == 'Animal Products'"}],
"mark":{"type":"area","interpolate":"monotone","opacity":1,"fill":{"gradient":"linear","x1":0,"y1":0,"x2":1.137,"y2":0.807,"stops":[
{"offset":0,"color":"#fff"},{"offset":0.003,"color":"#222"},{"offset":0.006,"color":"#fff"},
{"offset":0.02,"color":"#fff"},{"offset":0.023,"color":"#222"},{"offset":0.026,"color":"#fff"},
{"offset":0.04,"color":"#fff"},{"offset":0.043,"color":"#222"},{"offset":0.046,"color":"#fff"},
{"offset":0.06,"color":"#fff"},{"offset":0.063,"color":"#222"},{"offset":0.066,"color":"#fff"},
{"offset":0.08,"color":"#fff"},{"offset":0.083,"color":"#222"},{"offset":0.086,"color":"#fff"},
{"offset":0.1,"color":"#fff"},{"offset":0.103,"color":"#222"},{"offset":0.106,"color":"#fff"},
{"offset":0.12,"color":"#fff"},{"offset":0.123,"color":"#222"},{"offset":0.126,"color":"#fff"},
{"offset":0.14,"color":"#fff"},{"offset":0.143,"color":"#222"},{"offset":0.146,"color":"#fff"},
{"offset":0.16,"color":"#fff"},{"offset":0.163,"color":"#222"},{"offset":0.166,"color":"#fff"},
{"offset":0.18,"color":"#fff"},{"offset":0.183,"color":"#222"},{"offset":0.186,"color":"#fff"},
{"offset":0.2,"color":"#fff"},{"offset":0.203,"color":"#222"},{"offset":0.206,"color":"#fff"},
{"offset":0.22,"color":"#fff"},{"offset":0.223,"color":"#222"},{"offset":0.226,"color":"#fff"},
{"offset":0.24,"color":"#fff"},{"offset":0.243,"color":"#222"},{"offset":0.246,"color":"#fff"},
{"offset":0.26,"color":"#fff"},{"offset":0.263,"color":"#222"},{"offset":0.266,"color":"#fff"},
{"offset":0.28,"color":"#fff"},{"offset":0.283,"color":"#222"},{"offset":0.286,"color":"#fff"},
{"offset":0.3,"color":"#fff"},{"offset":0.303,"color":"#222"},{"offset":0.306,"color":"#fff"},
{"offset":0.32,"color":"#fff"},{"offset":0.323,"color":"#222"},{"offset":0.326,"color":"#fff"},
{"offset":0.34,"color":"#fff"},{"offset":0.343,"color":"#222"},{"offset":0.346,"color":"#fff"},
{"offset":0.36,"color":"#fff"},{"offset":0.363,"color":"#222"},{"offset":0.366,"color":"#fff"},
{"offset":0.38,"color":"#fff"},{"offset":0.383,"color":"#222"},{"offset":0.386,"color":"#fff"},
{"offset":0.4,"color":"#fff"},{"offset":0.403,"color":"#222"},{"offset":0.406,"color":"#fff"},
{"offset":0.42,"color":"#fff"},{"offset":0.423,"color":"#222"},{"offset":0.426,"color":"#fff"},
{"offset":0.44,"color":"#fff"},{"offset":0.443,"color":"#222"},{"offset":0.446,"color":"#fff"},
{"offset":0.46,"color":"#fff"},{"offset":0.463,"color":"#222"},{"offset":0.466,"color":"#fff"},
{"offset":0.48,"color":"#fff"},{"offset":0.483,"color":"#222"},{"offset":0.486,"color":"#fff"},
{"offset":0.5,"color":"#fff"},{"offset":0.503,"color":"#222"},{"offset":0.506,"color":"#fff"},
{"offset":0.52,"color":"#fff"},{"offset":0.523,"color":"#222"},{"offset":0.526,"color":"#fff"},
{"offset":0.54,"color":"#fff"},{"offset":0.543,"color":"#222"},{"offset":0.546,"color":"#fff"},
{"offset":0.56,"color":"#fff"},{"offset":0.563,"color":"#222"},{"offset":0.566,"color":"#fff"},
{"offset":0.58,"color":"#fff"},{"offset":0.583,"color":"#222"},{"offset":0.586,"color":"#fff"},
{"offset":0.6,"color":"#fff"},{"offset":0.603,"color":"#222"},{"offset":0.606,"color":"#fff"},
{"offset":0.62,"color":"#fff"},{"offset":0.623,"color":"#222"},{"offset":0.626,"color":"#fff"},
{"offset":0.64,"color":"#fff"},{"offset":0.643,"color":"#222"},{"offset":0.646,"color":"#fff"},
{"offset":0.66,"color":"#fff"},{"offset":0.663,"color":"#222"},{"offset":0.666,"color":"#fff"},
{"offset":0.68,"color":"#fff"},{"offset":0.683,"color":"#222"},{"offset":0.686,"color":"#fff"},
{"offset":0.7,"color":"#fff"},{"offset":0.703,"color":"#222"},{"offset":0.706,"color":"#fff"},
{"offset":0.72,"color":"#fff"},{"offset":0.723,"color":"#222"},{"offset":0.726,"color":"#fff"},
{"offset":0.74,"color":"#fff"},{"offset":0.743,"color":"#222"},{"offset":0.746,"color":"#fff"},
{"offset":0.76,"color":"#fff"},{"offset":0.763,"color":"#222"},{"offset":0.766,"color":"#fff"},
{"offset":0.78,"color":"#fff"},{"offset":0.783,"color":"#222"},{"offset":0.786,"color":"#fff"},
{"offset":0.8,"color":"#fff"},{"offset":0.803,"color":"#222"},{"offset":0.806,"color":"#fff"},
{"offset":0.82,"color":"#fff"},{"offset":0.823,"color":"#222"},{"offset":0.826,"color":"#fff"},
{"offset":0.84,"color":"#fff"},{"offset":0.843,"color":"#222"},{"offset":0.846,"color":"#fff"},
{"offset":0.86,"color":"#fff"},{"offset":0.863,"color":"#222"},{"offset":0.866,"color":"#fff"},
{"offset":0.88,"color":"#fff"},{"offset":0.883,"color":"#222"},{"offset":0.886,"color":"#fff"},
{"offset":0.9,"color":"#fff"},{"offset":0.903,"color":"#222"},{"offset":0.906,"color":"#fff"},
{"offset":0.92,"color":"#fff"},{"offset":0.923,"color":"#222"},{"offset":0.926,"color":"#fff"},
{"offset":0.94,"color":"#fff"},{"offset":0.943,"color":"#222"},{"offset":0.946,"color":"#fff"},
{"offset":0.96,"color":"#fff"},{"offset":0.963,"color":"#222"},{"offset":0.966,"color":"#fff"},
{"offset":0.98,"color":"#fff"},{"offset":0.983,"color":"#222"},{"offset":0.986,"color":"#fff"},
{"offset":1,"color":"#fff"}
]}},
"encoding":{"y2":{"field":"v0"}}},
{"transform":[{"filter":"datum.cat == 'Animal Products'"}],
"mark":{"type":"area","interpolate":"monotone","opacity":1,"fill":{"gradient":"linear","x1":0,"y1":1,"x2":1.137,"y2":0.193,"stops":[
{"offset":0,"color":"rgba(0,0,0,0)"},{"offset":0.003,"color":"#222"},{"offset":0.006,"color":"rgba(0,0,0,0)"},
{"offset":0.02,"color":"rgba(0,0,0,0)"},{"offset":0.023,"color":"#222"},{"offset":0.026,"color":"rgba(0,0,0,0)"},
{"offset":0.04,"color":"rgba(0,0,0,0)"},{"offset":0.043,"color":"#222"},{"offset":0.046,"color":"rgba(0,0,0,0)"},
{"offset":0.06,"color":"rgba(0,0,0,0)"},{"offset":0.063,"color":"#222"},{"offset":0.066,"color":"rgba(0,0,0,0)"},
{"offset":0.08,"color":"rgba(0,0,0,0)"},{"offset":0.083,"color":"#222"},{"offset":0.086,"color":"rgba(0,0,0,0)"},
{"offset":0.1,"color":"rgba(0,0,0,0)"},{"offset":0.103,"color":"#222"},{"offset":0.106,"color":"rgba(0,0,0,0)"},
{"offset":0.12,"color":"rgba(0,0,0,0)"},{"offset":0.123,"color":"#222"},{"offset":0.126,"color":"rgba(0,0,0,0)"},
{"offset":0.14,"color":"rgba(0,0,0,0)"},{"offset":0.143,"color":"#222"},{"offset":0.146,"color":"rgba(0,0,0,0)"},
{"offset":0.16,"color":"rgba(0,0,0,0)"},{"offset":0.163,"color":"#222"},{"offset":0.166,"color":"rgba(0,0,0,0)"},
{"offset":0.18,"color":"rgba(0,0,0,0)"},{"offset":0.183,"color":"#222"},{"offset":0.186,"color":"rgba(0,0,0,0)"},
{"offset":0.2,"color":"rgba(0,0,0,0)"},{"offset":0.203,"color":"#222"},{"offset":0.206,"color":"rgba(0,0,0,0)"},
{"offset":0.22,"color":"rgba(0,0,0,0)"},{"offset":0.223,"color":"#222"},{"offset":0.226,"color":"rgba(0,0,0,0)"},
{"offset":0.24,"color":"rgba(0,0,0,0)"},{"offset":0.243,"color":"#222"},{"offset":0.246,"color":"rgba(0,0,0,0)"},
{"offset":0.26,"color":"rgba(0,0,0,0)"},{"offset":0.263,"color":"#222"},{"offset":0.266,"color":"rgba(0,0,0,0)"},
{"offset":0.28,"color":"rgba(0,0,0,0)"},{"offset":0.283,"color":"#222"},{"offset":0.286,"color":"rgba(0,0,0,0)"},
{"offset":0.3,"color":"rgba(0,0,0,0)"},{"offset":0.303,"color":"#222"},{"offset":0.306,"color":"rgba(0,0,0,0)"},
{"offset":0.32,"color":"rgba(0,0,0,0)"},{"offset":0.323,"color":"#222"},{"offset":0.326,"color":"rgba(0,0,0,0)"},
{"offset":0.34,"color":"rgba(0,0,0,0)"},{"offset":0.343,"color":"#222"},{"offset":0.346,"color":"rgba(0,0,0,0)"},
{"offset":0.36,"color":"rgba(0,0,0,0)"},{"offset":0.363,"color":"#222"},{"offset":0.366,"color":"rgba(0,0,0,0)"},
{"offset":0.38,"color":"rgba(0,0,0,0)"},{"offset":0.383,"color":"#222"},{"offset":0.386,"color":"rgba(0,0,0,0)"},
{"offset":0.4,"color":"rgba(0,0,0,0)"},{"offset":0.403,"color":"#222"},{"offset":0.406,"color":"rgba(0,0,0,0)"},
{"offset":0.42,"color":"rgba(0,0,0,0)"},{"offset":0.423,"color":"#222"},{"offset":0.426,"color":"rgba(0,0,0,0)"},
{"offset":0.44,"color":"rgba(0,0,0,0)"},{"offset":0.443,"color":"#222"},{"offset":0.446,"color":"rgba(0,0,0,0)"},
{"offset":0.46,"color":"rgba(0,0,0,0)"},{"offset":0.463,"color":"#222"},{"offset":0.466,"color":"rgba(0,0,0,0)"},
{"offset":0.48,"color":"rgba(0,0,0,0)"},{"offset":0.483,"color":"#222"},{"offset":0.486,"color":"rgba(0,0,0,0)"},
{"offset":0.5,"color":"rgba(0,0,0,0)"},{"offset":0.503,"color":"#222"},{"offset":0.506,"color":"rgba(0,0,0,0)"},
{"offset":0.52,"color":"rgba(0,0,0,0)"},{"offset":0.523,"color":"#222"},{"offset":0.526,"color":"rgba(0,0,0,0)"},
{"offset":0.54,"color":"rgba(0,0,0,0)"},{"offset":0.543,"color":"#222"},{"offset":0.546,"color":"rgba(0,0,0,0)"},
{"offset":0.56,"color":"rgba(0,0,0,0)"},{"offset":0.563,"color":"#222"},{"offset":0.566,"color":"rgba(0,0,0,0)"},
{"offset":0.58,"color":"rgba(0,0,0,0)"},{"offset":0.583,"color":"#222"},{"offset":0.586,"color":"rgba(0,0,0,0)"},
{"offset":0.6,"color":"rgba(0,0,0,0)"},{"offset":0.603,"color":"#222"},{"offset":0.606,"color":"rgba(0,0,0,0)"},
{"offset":0.62,"color":"rgba(0,0,0,0)"},{"offset":0.623,"color":"#222"},{"offset":0.626,"color":"rgba(0,0,0,0)"},
{"offset":0.64,"color":"rgba(0,0,0,0)"},{"offset":0.643,"color":"#222"},{"offset":0.646,"color":"rgba(0,0,0,0)"},
{"offset":0.66,"color":"rgba(0,0,0,0)"},{"offset":0.663,"color":"#222"},{"offset":0.666,"color":"rgba(0,0,0,0)"},
{"offset":0.68,"color":"rgba(0,0,0,0)"},{"offset":0.683,"color":"#222"},{"offset":0.686,"color":"rgba(0,0,0,0)"},
{"offset":0.7,"color":"rgba(0,0,0,0)"},{"offset":0.703,"color":"#222"},{"offset":0.706,"color":"rgba(0,0,0,0)"},
{"offset":0.72,"color":"rgba(0,0,0,0)"},{"offset":0.723,"color":"#222"},{"offset":0.726,"color":"rgba(0,0,0,0)"},
{"offset":0.74,"color":"rgba(0,0,0,0)"},{"offset":0.743,"color":"#222"},{"offset":0.746,"color":"rgba(0,0,0,0)"},
{"offset":0.76,"color":"rgba(0,0,0,0)"},{"offset":0.763,"color":"#222"},{"offset":0.766,"color":"rgba(0,0,0,0)"},
{"offset":0.78,"color":"rgba(0,0,0,0)"},{"offset":0.783,"color":"#222"},{"offset":0.786,"color":"rgba(0,0,0,0)"},
{"offset":0.8,"color":"rgba(0,0,0,0)"},{"offset":0.803,"color":"#222"},{"offset":0.806,"color":"rgba(0,0,0,0)"},
{"offset":0.82,"color":"rgba(0,0,0,0)"},{"offset":0.823,"color":"#222"},{"offset":0.826,"color":"rgba(0,0,0,0)"},
{"offset":0.84,"color":"rgba(0,0,0,0)"},{"offset":0.843,"color":"#222"},{"offset":0.846,"color":"rgba(0,0,0,0)"},
{"offset":0.86,"color":"rgba(0,0,0,0)"},{"offset":0.863,"color":"#222"},{"offset":0.866,"color":"rgba(0,0,0,0)"},
{"offset":0.88,"color":"rgba(0,0,0,0)"},{"offset":0.883,"color":"#222"},{"offset":0.886,"color":"rgba(0,0,0,0)"},
{"offset":0.9,"color":"rgba(0,0,0,0)"},{"offset":0.903,"color":"#222"},{"offset":0.906,"color":"rgba(0,0,0,0)"},
{"offset":0.92,"color":"rgba(0,0,0,0)"},{"offset":0.923,"color":"#222"},{"offset":0.926,"color":"rgba(0,0,0,0)"},
{"offset":0.94,"color":"rgba(0,0,0,0)"},{"offset":0.943,"color":"#222"},{"offset":0.946,"color":"rgba(0,0,0,0)"},
{"offset":0.96,"color":"rgba(0,0,0,0)"},{"offset":0.963,"color":"#222"},{"offset":0.966,"color":"rgba(0,0,0,0)"},
{"offset":0.98,"color":"rgba(0,0,0,0)"},{"offset":0.983,"color":"#222"},{"offset":0.986,"color":"rgba(0,0,0,0)"},
{"offset":1,"color":"rgba(0,0,0,0)"}
]}},
"encoding":{"y2":{"field":"v0"}}},
{"mark":{"type":"line","interpolate":"monotone","color":"black","strokeWidth":0.8},"encoding":{"detail":{"field":"cat"}}}
]
}
],
"spacing":143,
"bounds":"flush",
"center":true
}
